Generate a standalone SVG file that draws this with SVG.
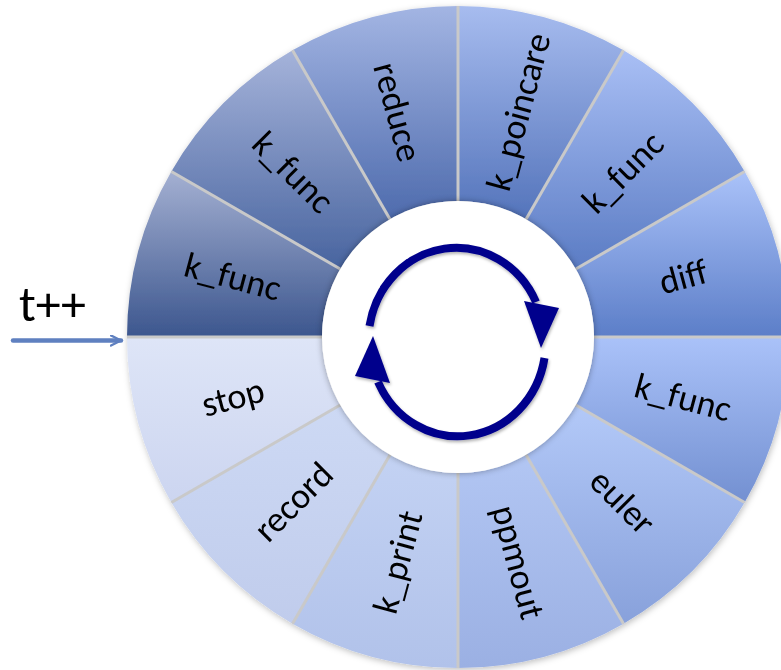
<svg xmlns="http://www.w3.org/2000/svg" width="781" height="670" viewBox="0 0 781 670">
<defs>
<style>
.lbl{font-family:Carlito,Calibri,Lato,"Liberation Sans",sans-serif;font-size:36px;fill:#000;text-anchor:middle;dominant-baseline:central}
.sep{stroke:#c9c9c9;stroke-width:3}
.cyc{fill:none;stroke:#00008c;stroke-width:8}
</style>
<linearGradient id="g1" x1="0" y1="0" x2="0" y2="1"><stop offset="0" stop-color="#a4b0d2"/><stop offset="1" stop-color="#3c568e"/></linearGradient>
<linearGradient id="g2" x1="0" y1="0" x2="0" y2="1"><stop offset="0" stop-color="#a5b3da"/><stop offset="1" stop-color="#48649f"/></linearGradient>
<linearGradient id="g3" x1="0" y1="0" x2="0" y2="1"><stop offset="0" stop-color="#a3b5e3"/><stop offset="1" stop-color="#4e6bad"/></linearGradient>
<linearGradient id="g4" x1="0" y1="0" x2="0" y2="1"><stop offset="0" stop-color="#a7bcef"/><stop offset="1" stop-color="#5474bb"/></linearGradient>
<linearGradient id="g5" x1="0" y1="0" x2="0" y2="1"><stop offset="0" stop-color="#a9bff5"/><stop offset="1" stop-color="#5b7cc4"/></linearGradient>
<linearGradient id="g6" x1="0" y1="0" x2="0" y2="1"><stop offset="0" stop-color="#aac2f9"/><stop offset="1" stop-color="#5c7ec8"/></linearGradient>
<linearGradient id="g7" x1="0" y1="0" x2="0" y2="1"><stop offset="0" stop-color="#aac2f9"/><stop offset="1" stop-color="#7390d1"/></linearGradient>
<linearGradient id="g8" x1="0" y1="0" x2="0" y2="1"><stop offset="0" stop-color="#b3c9f8"/><stop offset="1" stop-color="#88a1db"/></linearGradient>
<linearGradient id="g9" x1="0" y1="0" x2="0" y2="1"><stop offset="0" stop-color="#b2c6f3"/><stop offset="1" stop-color="#9bb0e3"/></linearGradient>
<linearGradient id="g10" x1="0" y1="0" x2="0" y2="1"><stop offset="0" stop-color="#c3d2f3"/><stop offset="1" stop-color="#b1c2ea"/></linearGradient>
<linearGradient id="g11" x1="0" y1="0" x2="0" y2="1"><stop offset="0" stop-color="#cdd9f4"/><stop offset="1" stop-color="#c0ccec"/></linearGradient>
<linearGradient id="g12" x1="0" y1="0" x2="0" y2="1"><stop offset="0" stop-color="#dee5f7"/><stop offset="1" stop-color="#ccd5f0"/></linearGradient>
<filter id="sh" x="-10%" y="-10%" width="120%" height="120%"><feDropShadow dx="1" dy="2" stdDeviation="3" flood-color="#000" flood-opacity="0.25"/></filter>
<filter id="ish" x="-20%" y="-20%" width="140%" height="140%"><feDropShadow dx="0" dy="0" stdDeviation="3" flood-color="#000" flood-opacity="0.35"/></filter>
<filter id="ash" x="-20%" y="-20%" width="140%" height="140%"><feDropShadow dx="1" dy="2" stdDeviation="1.5" flood-color="#000" flood-opacity="0.3"/></filter>
<marker id="open" viewBox="0 0 12 12" refX="11" refY="6" markerWidth="12" markerHeight="12" markerUnits="userSpaceOnUse" orient="auto"><path d="M1 1 L11 6 L1 11" fill="none" stroke="#5f80c0" stroke-width="2.4" stroke-linecap="round"/></marker>
</defs>
<rect width="781" height="670" fill="#fff"/>
<g id="ring" filter="url(#sh)">
<g id="seg-k_func-1"><path d="M171.35 171.5 A331 331 0 0 0 127 337 L322 337 A136 136 0 0 1 340.22 269 Z" fill="url(#g1)"/><text class="lbl" transform="translate(232.9 276.7) rotate(15)">k_func</text></g>
<g id="seg-k_func-2"><path d="M292.5 50.35 A331 331 0 0 0 171.35 171.5 L340.22 269 A136 136 0 0 1 390 219.22 Z" fill="url(#g2)"/><text class="lbl" transform="translate(293.25 172.25) rotate(45)">k_func</text></g>
<g id="seg-reduce"><path d="M458 6 A331 331 0 0 0 292.5 50.35 L390 219.22 A136 136 0 0 1 458 201 Z" fill="url(#g3)"/><text class="lbl" transform="translate(397.7 111.9) rotate(75)">reduce</text></g>
<g id="seg-k_poincare"><path d="M623.5 50.35 A331 331 0 0 0 458 6 L458 201 A136 136 0 0 1 526 219.22 Z" fill="url(#g4)"/><text class="lbl" transform="translate(518.3 111.9) rotate(-75)">k_poincare</text></g>
<g id="seg-k_func-3"><path d="M744.65 171.5 A331 331 0 0 0 623.5 50.35 L526 219.22 A136 136 0 0 1 575.78 269 Z" fill="url(#g5)"/><text class="lbl" transform="translate(622.75 172.25) rotate(-45)">k_func</text></g>
<g id="seg-diff"><path d="M789 337 A331 331 0 0 0 744.65 171.5 L575.78 269 A136 136 0 0 1 594 337 Z" fill="url(#g6)"/><text class="lbl" transform="translate(683.06 276.7) rotate(-15)">diff</text></g>
<g id="seg-k_func-4"><path d="M744.65 502.5 A331 331 0 0 0 789 337 L594 337 A136 136 0 0 1 575.78 405 Z" fill="url(#g7)"/><text class="lbl" transform="translate(683.06 397.3) rotate(15)">k_func</text></g>
<g id="seg-euler"><path d="M623.5 623.65 A331 331 0 0 0 744.65 502.5 L575.78 405 A136 136 0 0 1 526 454.78 Z" fill="url(#g8)"/><text class="lbl" transform="translate(622.75 501.75) rotate(45)">euler</text></g>
<g id="seg-ppmout"><path d="M458 668 A331 331 0 0 0 623.5 623.65 L526 454.78 A136 136 0 0 1 458 473 Z" fill="url(#g9)"/><text class="lbl" transform="translate(518.3 562.06) rotate(75)">ppmout</text></g>
<g id="seg-k_print"><path d="M292.5 623.65 A331 331 0 0 0 458 668 L458 473 A136 136 0 0 1 390 454.78 Z" fill="url(#g10)"/><text class="lbl" transform="translate(397.7 562.06) rotate(-75)">k_print</text></g>
<g id="seg-record"><path d="M171.35 502.5 A331 331 0 0 0 292.5 623.65 L390 454.78 A136 136 0 0 1 340.22 405 Z" fill="url(#g11)"/><text class="lbl" transform="translate(293.25 501.75) rotate(-45)">record</text></g>
<g id="seg-stop"><path d="M127 337 A331 331 0 0 0 171.35 502.5 L340.22 405 A136 136 0 0 1 322 337 Z" fill="url(#g12)"/><text class="lbl" transform="translate(232.9 397.3) rotate(-15)">stop</text></g>
</g>
<g id="separators">
<line class="sep" x1="594" y1="337" x2="789" y2="337"/>
<line class="sep" x1="575.78" y1="269" x2="744.65" y2="171.5"/>
<line class="sep" x1="526" y1="219.22" x2="623.5" y2="50.35"/>
<line class="sep" x1="458" y1="201" x2="458" y2="6"/>
<line class="sep" x1="390" y1="219.22" x2="292.5" y2="50.35"/>
<line class="sep" x1="340.22" y1="269" x2="171.35" y2="171.5"/>
<line class="sep" x1="322" y1="337" x2="127" y2="337"/>
<line class="sep" x1="340.22" y1="405" x2="171.35" y2="502.5"/>
<line class="sep" x1="390" y1="454.78" x2="292.5" y2="623.65"/>
<line class="sep" x1="458" y1="473" x2="458" y2="668"/>
<line class="sep" x1="526" y1="454.78" x2="623.5" y2="623.65"/>
<line class="sep" x1="575.78" y1="405" x2="744.65" y2="502.5"/>
</g>
<g id="hub"><circle cx="458" cy="337" r="136" fill="#fff" filter="url(#ish)"/></g>
<g id="label-t">
<text x="19" y="321" style="font-family:Carlito,Calibri,Lato,'Liberation Sans',sans-serif;font-size:50px;fill:#000">t++</text>
</g>
<g id="connectors">
<line x1="13" y1="340.5" x2="121" y2="340.5" stroke="#5f80c0" stroke-width="4.5" stroke-linecap="round" marker-end="url(#open)"/>
<g id="cycle" filter="url(#ash)">
<g>
<path class="cyc" d="M369.5 326 A88 94 0 0 1 536 302"/>
<polygon points="524,301 559,308 541,348" fill="#00008c"/>
</g>
<g transform="rotate(180 457 342)">
<path class="cyc" d="M369.5 326 A88 94 0 0 1 536 302"/>
<polygon points="524,301 559,308 541,348" fill="#00008c"/>
</g>
</g>
</g>
</svg>
